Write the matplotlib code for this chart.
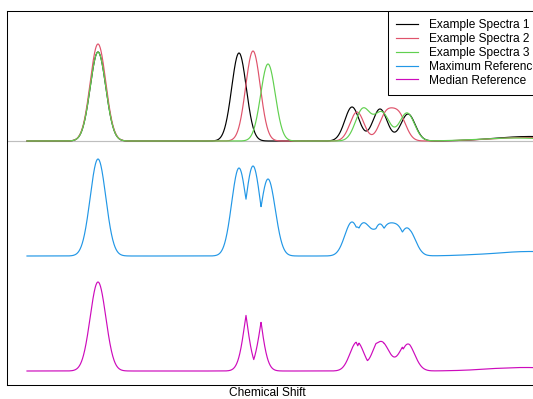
import numpy as np
import matplotlib.pyplot as plt

plt.rcParams['font.family'] = ['Liberation Sans', 'DejaVu Sans']

# chemical shift grid (arbitrary index units)
shift = np.arange(27, 560.25, 0.25)

# peak tables for the three example spectra: centre, height, width
spec1_centres = [98, 239, 352, 380, 408, 530]
spec1_heights = [89, 88, 34, 32, 27, 4.5]
spec1_widths = [7.8, 7.3, 7.2, 7.2, 7.2, 35]

spec2_centres = [98, 253, 357, 386, 399, 525]
spec2_heights = [97, 90, 29, 26, 25, 3.5]
spec2_widths = [7.8, 7.3, 7.0, 7.0, 7.0, 35]

spec3_centres = [98, 268, 363, 382, 407, 515]
spec3_heights = [89, 77, 32, 28, 28, 3]
spec3_widths = [7.8, 7.3, 7.5, 7.5, 7.5, 35]

labels = ['Example Spectra 1', 'Example Spectra 2', 'Example Spectra 3',
          'Maximum Reference', 'Median Reference']
colours = ['#000000', '#DF536B', '#61D04F', '#2297E6', '#CD0BBC']


def lineshape(centres, heights, widths):
    out = np.zeros_like(shift)
    for c, h, w in zip(centres, heights, widths):
        out += h * np.exp(-0.5 * ((shift - c) / w) ** 2)
    return out


spectra = np.vstack([
    lineshape(spec1_centres, spec1_heights, spec1_widths),
    lineshape(spec2_centres, spec2_heights, spec2_widths),
    lineshape(spec3_centres, spec3_heights, spec3_widths),
])
max_ref = spectra.max(axis=0)
med_ref = np.median(spectra, axis=0)

# vertical offsets so the three panels stack
off_examples, off_max, off_med = 230, 115, 0

fig = plt.figure(figsize=(5.33, 3.99), dpi=100)
ax = fig.add_axes([7 / 533, 14 / 399, 540 / 533, 374 / 399])

ax.axhline(off_examples, color='#BEBEBE', lw=0.85, zorder=1)
for i in range(3):
    ax.plot(shift, spectra[i] + off_examples, color=colours[i], lw=0.85,
            label=labels[i], zorder=2 + i)
ax.plot(shift, max_ref + off_max, color=colours[3], lw=0.85, label=labels[3])
ax.plot(shift, med_ref + off_med, color=colours[4], lw=0.85, label=labels[4])

ax.set_xlim(7, 547)
ax.set_ylim(-14, 360)
ax.set_xticks([])
ax.set_yticks([])
for sp in ax.spines.values():
    sp.set_color('black')
    sp.set_linewidth(0.75)

ax.set_xlabel('Chemical Shift', fontsize=8.6)
ax.xaxis.set_label_coords(0.4815, -0.006)

leg = ax.legend(loc='upper right', bbox_to_anchor=(1, 1), borderaxespad=0,
                fancybox=False, edgecolor='black', framealpha=1,
                handlelength=1.85, handletextpad=0.85, labelspacing=0.15,
                borderpad=0.7, fontsize=8.6)
leg.get_frame().set_linewidth(0.75)

fig.savefig('out.png', dpi=100)
